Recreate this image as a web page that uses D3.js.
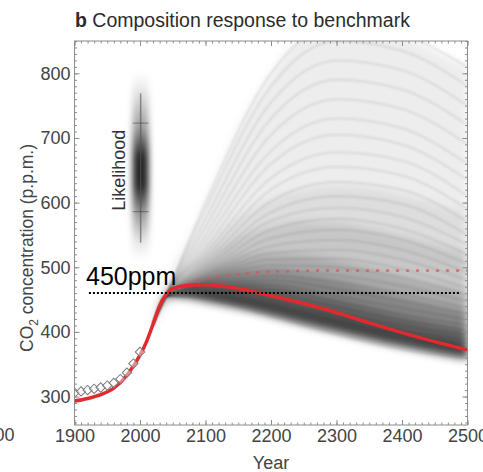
<!DOCTYPE html>
<html>
<head>
<meta charset="utf-8">
<script src="https://cdn.jsdelivr.net/npm/d3@7"></script>
<style>
body{margin:0;background:#fff;}
svg{display:block;font-family:"Liberation Sans",Arial,sans-serif;}
</style>
</head>
<body>
<div id="graph"></div>
<script>
(function(){
	"use strict";

	// tick labels
	var xTicks = [1900, 2000, 2100, 2200, 2300, 2400, 2500];
	var yTicks = [300, 400, 500, 600, 700, 800];

	// best estimate (solid red)
	var redYears = [1900,1920,1940,1960,1980,2000,2010,2020,2030,2040,2050,2075,2100,2150,2200,2250,2300,2350,2400,2450,2500];
	var redVals  = [293, 297, 303, 313, 333, 364, 385, 412, 440, 458, 467, 472, 473, 467, 456, 444, 430, 414, 399, 385, 372];

	// stabilisation run (red dots)
	var dotYears = [2060,2080,2100,2150,2200,2300,2400,2500];
	var dotVals  = [468, 476, 482, 489, 493, 495, 495, 495];

	// observations (diamonds)
	var obsYears = [1900,1910,1920,1930,1940,1950,1960,1970,1980,1990,2000];
	var obsVals  = [306, 308, 310, 312, 314, 317, 321, 327, 337, 351, 369];

	// ensemble spread, read as bands
	var fanYears = [2020,2030,2040,2050,2075,2100,2150,2200,2250,2300,2350,2400,2450,2500];
	var fanLow   = [412, 436, 450, 454, 452, 447, 437, 425, 412, 400, 388, 377, 367, 358];
	var fanP25   = [412, 438, 453, 458, 461, 461, 457, 448, 436, 425, 413, 401, 391, 381];
	var fanP40   = [412, 439, 455, 462, 470, 476, 477, 471, 461, 450, 437, 424, 412, 402];
	var fanP55   = [412, 440, 456, 465, 477, 486, 495, 495, 489, 480, 467, 454, 442, 431];
	var fanP70   = [413, 441, 458, 468, 484, 497, 514, 520, 518, 510, 498, 485, 472, 460];
	var fanP80   = [413, 443, 462, 473, 495, 513, 545, 562, 570, 568, 560, 548, 535, 522];
	var fanP90   = [413, 444, 465, 478, 505, 530, 575, 605, 620, 625, 622, 612, 598, 585];
	var fanHigh  = [414, 448, 478, 500, 545, 600, 715, 800, 860, 880, 875, 860, 835, 810];

	// individual ensemble members
	var memberYears = [2020, 2040, 2100, 2200, 2300, 2400, 2500];
	var members = [
		[412, 458, 600, 800, 875, 860, 810],
		[412, 458, 590, 780, 850, 835, 780],
		[412, 457, 575, 755, 820, 805, 750],
		[412, 457, 562, 730, 790, 775, 720],
		[412, 457, 550, 705, 760, 745, 690],
		[412, 456, 540, 680, 730, 715, 660],
		[412, 456, 530, 660, 705, 690, 635],
		[412, 456, 522, 638, 678, 665, 610],
		[412, 456, 515, 620, 655, 642, 590],
		[412, 455, 508, 602, 632, 620, 570],
		[412, 455, 502, 585, 610, 598, 550],
		[412, 455, 497, 572, 592, 578, 535],
		[412, 455, 492, 558, 575, 560, 520],
		[412, 455, 488, 545, 558, 543, 505],
		[412, 455, 485, 533, 542, 527, 492],
		[412, 455, 482, 522, 527, 512, 480],
		[412, 455, 479, 512, 513, 497, 468],
		[412, 455, 477, 503, 500, 484, 457],
		[412, 455, 475, 495, 488, 471, 447],
		[412, 455, 473, 487, 477, 459, 437],
		[412, 455, 471, 480, 466, 448, 428],
		[412, 455, 469, 473, 456, 437, 419],
		[412, 455, 467, 466, 447, 427, 411],
		[412, 455, 465, 460, 439, 418, 403],
		[412, 455, 463, 454, 431, 410, 396],
		[412, 455, 461, 448, 424, 402, 389],
		[412, 455, 459, 442, 417, 395, 383],
		[412, 455, 457, 437, 411, 389, 377],
		[412, 455, 455, 432, 405, 383, 371],
		[412, 455, 453, 428, 400, 378, 365],
		[412, 455, 451, 424, 396, 373, 360]
	];

	// 450ppm reference line
	var refYears = [1922, 2490];
	var refVal = 460;

	// likelihood inset (on the data axes)
	var likeYear = 2001;
	var likeRange = [538, 769];
	var likeTicks = [586, 723];

	var width = 483, height = 472;

	var x = d3.scaleLinear().domain([1900, 2500]).range([74.5, 467.5]);
	var y = d3.scaleLinear().domain([256, 850]).range([425, 41]);

	var svg = d3.select("#graph").append("svg")
		.attr("width", width)
		.attr("height", height);

	var defs = svg.append("defs");
	defs.append("clipPath").attr("id", "plotClip")
		.append("rect")
		.attr("x", x.range()[0]).attr("y", y.range()[1])
		.attr("width", x.range()[1] - x.range()[0])
		.attr("height", y.range()[0] - y.range()[1]);
	defs.append("filter").attr("id", "blurBig")
		.attr("x", "-10%").attr("y", "-10%").attr("width", "120%").attr("height", "120%")
		.append("feGaussianBlur").attr("stdDeviation", 4);
	defs.append("filter").attr("id", "blurSmall")
		.append("feGaussianBlur").attr("stdDeviation", 0.8);
	defs.append("filter").attr("id", "blurLike")
		.attr("x", "-100%").attr("y", "-20%").attr("width", "300%").attr("height", "140%")
		.append("feGaussianBlur").attr("stdDeviation", "3 4");

	var grad = defs.append("linearGradient").attr("id", "likeGrad")
		.attr("x1", 0).attr("y1", 0).attr("x2", 0).attr("y2", 1);
	[[0, 0], [0.1, 0.1], [0.3, 0.4], [0.45, 0.85], [0.6, 0.85], [0.75, 0.4], [0.9, 0.1], [1, 0]].forEach(function(s){
		grad.append("stop").attr("offset", s[0]).attr("stop-color", "#000").attr("stop-opacity", s[1]);
	});

	var plot = svg.append("g").attr("clip-path", "url(#plotClip)");

	// bands
	var bands = plot.append("g").attr("filter", "url(#blurBig)");
	var bandArea = function(top, op){
		var area = d3.area()
			.x(function(d, i){ return x(fanYears[i]); })
			.y0(function(d, i){ return y(fanLow[i]); })
			.y1(function(d){ return y(d); })
			.curve(d3.curveMonotoneX);
		bands.append("path").attr("d", area(top)).attr("fill", "#000").attr("fill-opacity", op);
	};
	bandArea(fanHigh, 0.07);
	bandArea(fanP90, 0.07);
	bandArea(fanP80, 0.1);
	bandArea(fanP70, 0.15);
	bandArea(fanP55, 0.22);
	bandArea(fanP40, 0.28);
	bandArea(fanP25, 0.28);

	// member lines
	var memberLine = d3.line()
		.x(function(d, i){ return x(memberYears[i]); })
		.y(function(d){ return y(d); })
		.curve(d3.curveMonotoneX);
	plot.append("g").attr("filter", "url(#blurSmall)")
		.selectAll("path")
		.data(members)
		.enter()
		.append("path")
		.attr("d", memberLine)
		.attr("fill", "none")
		.attr("stroke", "#000")
		.attr("stroke-opacity", 0.09)
		.attr("stroke-width", 2);

	// red dotted
	var dotLine = d3.line()
		.x(function(d, i){ return x(dotYears[i]); })
		.y(function(d){ return y(d); })
		.curve(d3.curveMonotoneX);
	plot.append("path")
		.attr("d", dotLine(dotVals))
		.attr("fill", "none")
		.attr("stroke", "#e0505a")
		.attr("stroke-opacity", 0.7)
		.attr("stroke-width", 3)
		.attr("stroke-linecap", "round")
		.attr("stroke-dasharray", "0.5 9.5");

	// red solid
	var redLine = d3.line()
		.x(function(d, i){ return x(redYears[i]); })
		.y(function(d){ return y(d); })
		.curve(d3.curveMonotoneX);
	plot.append("path")
		.attr("d", redLine(redVals))
		.attr("fill", "none")
		.attr("stroke", "#e02a2e")
		.attr("stroke-width", 3.5);

	// observations
	plot.append("g").selectAll("path")
		.data(obsVals)
		.enter()
		.append("path")
		.attr("d", d3.symbol().type(d3.symbolSquare).size(44))
		.attr("transform", function(d, i){ return "translate(" + x(obsYears[i]) + "," + y(d) + ")rotate(45)"; })
		.attr("fill", "#fff")
		.attr("fill-opacity", 0.45)
		.attr("stroke", "#7a7a7a")
		.attr("stroke-width", 1);

	// axes on all four sides, ticks pointing in
	var tickCol = "#8c8c8c";
	var addAxis = function(axis, tr){
		var g = svg.append("g").attr("transform", tr).call(axis);
		g.select(".domain").remove();
		g.selectAll("line").attr("stroke", tickCol);
		g.selectAll("text").attr("fill", "#444").style("font-size", "18px").style("font-family", "Liberation Sans, Arial, sans-serif");
		return g;
	};
	var minorX = d3.range(1900, 2501, 10);
	var minorY = d3.range(260, 851, 10);
	var bottomY = y.range()[0], topY = y.range()[1];
	var leftX = x.range()[0], rightX = x.range()[1];

	addAxis(d3.axisBottom(x).tickValues(minorX).tickSize(-2.5).tickFormat(""), "translate(0," + bottomY + ")");
	addAxis(d3.axisBottom(x).tickValues(xTicks).tickSize(-5).tickPadding(4).tickFormat(d3.format("d")), "translate(0," + bottomY + ")");
	addAxis(d3.axisTop(x).tickValues(minorX).tickSize(-2.5).tickFormat(""), "translate(0," + topY + ")");
	addAxis(d3.axisTop(x).tickValues(xTicks).tickSize(-5).tickFormat(""), "translate(0," + topY + ")");
	addAxis(d3.axisLeft(y).tickValues(minorY).tickSize(-2.5).tickFormat(""), "translate(" + leftX + ",0)");
	addAxis(d3.axisLeft(y).tickValues(yTicks).tickSize(-5).tickPadding(4), "translate(" + leftX + ",0)");
	addAxis(d3.axisRight(y).tickValues(minorY).tickSize(-2.5).tickFormat(""), "translate(" + rightX + ",0)");
	addAxis(d3.axisRight(y).tickValues(yTicks).tickSize(-5).tickFormat(""), "translate(" + rightX + ",0)");

	svg.append("rect")
		.attr("x", leftX).attr("y", topY)
		.attr("width", rightX - leftX).attr("height", bottomY - topY)
		.attr("fill", "none").attr("stroke", tickCol).attr("stroke-width", 1);

	// likelihood inset
	var like = svg.append("g");
	like.append("rect")
		.attr("x", x(likeYear) - 8).attr("width", 16)
		.attr("y", y(likeRange[1]) - 20).attr("height", y(likeRange[0]) - y(likeRange[1]) + 37)
		.attr("fill", "url(#likeGrad)")
		.attr("filter", "url(#blurLike)");
	like.append("line")
		.attr("x1", x(likeYear)).attr("x2", x(likeYear))
		.attr("y1", y(likeRange[1])).attr("y2", y(likeRange[0]))
		.attr("stroke", "#555").attr("stroke-opacity", 0.6).attr("stroke-width", 1.5);
	like.selectAll(".lt").data(likeTicks).enter().append("line")
		.attr("x1", x(likeYear) - 8).attr("x2", x(likeYear) + 8)
		.attr("y1", function(d){ return y(d); }).attr("y2", function(d){ return y(d); })
		.attr("stroke", "#333").attr("stroke-opacity", 0.5).attr("stroke-width", 1);
	like.append("text")
		.attr("transform", "translate(125," + y(650) + ")rotate(-90)")
		.attr("text-anchor", "middle")
		.attr("fill", "#333")
		.style("font-size", "18px")
		.text("Likelihood");

	// 450ppm line and label
	svg.append("line")
		.attr("x1", x(refYears[0])).attr("x2", x(refYears[1]))
		.attr("y1", y(refVal)).attr("y2", y(refVal))
		.attr("stroke", "#000").attr("stroke-width", 2)
		.attr("stroke-dasharray", "2 2");
	svg.append("text")
		.attr("x", 86).attr("y", y(refVal) - 8)
		.attr("fill", "#000")
		.style("font-size", "25px")
		.text("450ppm");

	// title
	var title = svg.append("text").attr("x", 75).attr("y", 27).attr("fill", "#2b2b2b").style("font-size", "19.5px");
	title.append("tspan").attr("font-weight", "bold").text("b");
	title.append("tspan").text(" Composition response to benchmark");

	// axis titles
	var yl = svg.append("text")
		.attr("transform", "translate(33,248)rotate(-90)")
		.attr("text-anchor", "middle")
		.attr("fill", "#444")
		.style("font-size", "17.5px");
	yl.append("tspan").text("CO");
	yl.append("tspan").attr("dy", 5).style("font-size", "12px").text("2");
	yl.append("tspan").attr("dy", -5).text(" concentration (p.p.m.)");

	svg.append("text")
		.attr("x", (leftX + rightX) / 2).attr("y", 469)
		.attr("text-anchor", "middle")
		.attr("fill", "#444")
		.style("font-size", "18px")
		.text("Year");

	// edge of the neighbouring panel's axis
	svg.append("text")
		.attr("x", -5.5).attr("y", 441)
		.attr("text-anchor", "middle")
		.attr("fill", "#444")
		.style("font-size", "18px")
		.text("2500");
})();
</script>
</body>
</html>
